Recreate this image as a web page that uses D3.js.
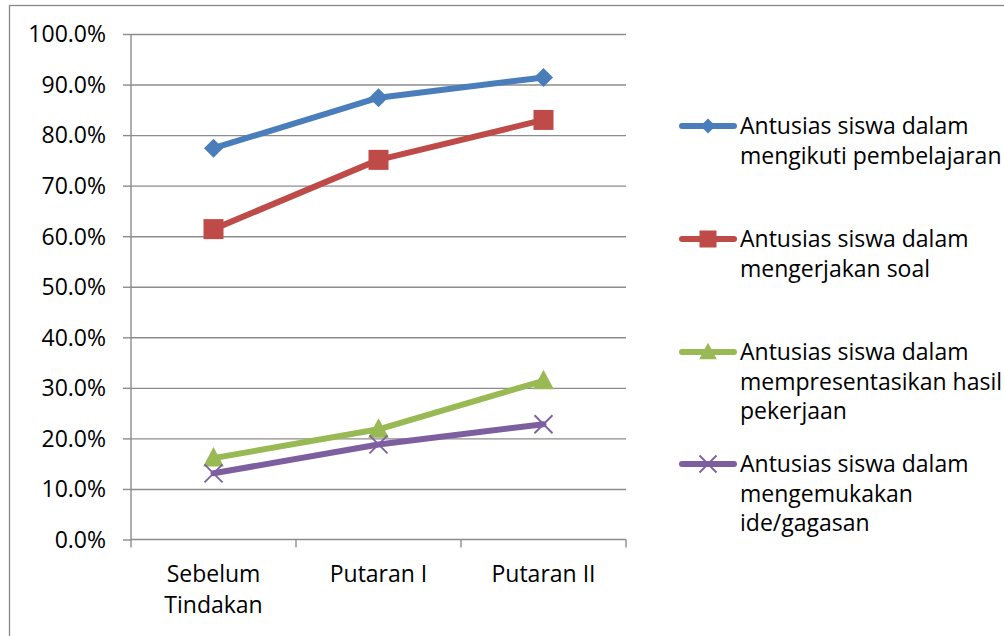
<!DOCTYPE html>
<html>
<head>
<meta charset="utf-8">
<script src="https://cdn.jsdelivr.net/npm/d3@7"></script>
<style>
  html, body { margin: 0; padding: 0; background: #fff; }
  svg { display: block; }
  text { font-family: "Open Sans", Lato, sans-serif; fill: #000; }
</style>
</head>
<body>
<svg id="chart" width="1004" height="636"></svg>
<script>
// Categories (stages of the action research)
const categories = [["Sebelum", "Tindakan"], ["Putaran I"], ["Putaran II"]];
const categoryKeys = ["Sebelum Tindakan", "Putaran I", "Putaran II"];

// Percentages per stage for each indicator
const mengikuti = [0.774, 0.874, 0.914];
const mengerjakan = [0.614, 0.751, 0.830];
const mempresentasikan = [0.161, 0.218, 0.314];
const mengemukakan = [0.131, 0.188, 0.228];

const seriesNames = [
  ["Antusias siswa dalam", "mengikuti pembelajaran"],
  ["Antusias siswa dalam", "mengerjakan soal"],
  ["Antusias siswa dalam", "mempresentasikan hasil", "pekerjaan"],
  ["Antusias siswa dalam", "mengemukakan", "ide/gagasan"]
];
const seriesColors = ["#4A7EBB", "#BE4B48", "#98B954", "#7D5FA0"];
const seriesMarkers = ["diamond", "square", "triangle", "cross"];
const yTicks = [0, 0.1, 0.2, 0.3, 0.4, 0.5, 0.6, 0.7, 0.8, 0.9, 1.0];

const series = [mengikuti, mengerjakan, mempresentasikan, mengemukakan].map((vals, i) => ({
  name: seriesNames[i], color: seriesColors[i], marker: seriesMarkers[i], values: vals
}));

const FONT = 23;
const svg = d3.select("#chart");

// Outer chart border
svg.append("rect")
  .attr("x", 9.5).attr("y", 5.5)
  .attr("width", 1010).attr("height", 650)
  .attr("fill", "none").attr("stroke", "#898989").attr("stroke-width", 1.3);

const plot = { left: 131, right: 626, top: 34, bottom: 539.5 };

const x = d3.scaleBand().domain(categoryKeys).range([plot.left, plot.right]).paddingInner(0).paddingOuter(0);
const xc = k => x(k) + x.bandwidth() / 2;
const y = d3.scaleLinear().domain([0, 1]).range([plot.bottom, plot.top]);

// Horizontal gridlines
svg.append("g")
  .attr("transform", `translate(${plot.left},0)`)
  .call(d3.axisLeft(y).tickValues(yTicks.slice(1)).tickSize(-(plot.right - plot.left)).tickFormat(""))
  .call(g => g.select(".domain").remove())
  .call(g => g.selectAll("line").attr("stroke", "#8c8c8c").attr("stroke-width", 1.4));

// Y axis
const yAxis = svg.append("g")
  .attr("transform", `translate(${plot.left},0)`)
  .call(d3.axisLeft(y).tickValues(yTicks).tickSize(8).tickPadding(17).tickFormat(d3.format(".1%")));
yAxis.select(".domain").attr("stroke", "#8c8c8c").attr("stroke-width", 1.4).attr("d", `M0,${plot.top}V${plot.bottom}`);
yAxis.selectAll(".tick line").attr("stroke", "#8c8c8c").attr("stroke-width", 1.4);
yAxis.selectAll(".tick text").attr("font-size", FONT).attr("font-family", "'Open Sans', sans-serif").attr("fill", "#000").attr("dy", "0.34em");

// X axis with ticks at category boundaries
const xAxis = svg.append("g").attr("transform", `translate(0,${plot.bottom})`);
xAxis.append("line")
  .attr("x1", plot.left).attr("x2", plot.right)
  .attr("stroke", "#8c8c8c").attr("stroke-width", 1.4);
const boundaries = categoryKeys.map(k => x(k)).concat([x(categoryKeys[categoryKeys.length - 1]) + x.bandwidth()]);
xAxis.selectAll("line.tick").data(boundaries).join("line")
  .attr("class", "tick")
  .attr("x1", d => d).attr("x2", d => d).attr("y1", 0).attr("y2", 8)
  .attr("stroke", "#8c8c8c").attr("stroke-width", 1.4);
xAxis.selectAll("text.cat").data(categories).join("text")
  .attr("class", "cat")
  .attr("text-anchor", "middle")
  .attr("font-size", FONT)
  .each(function (lines, i) {
    d3.select(this).selectAll("tspan").data(lines).join("tspan")
      .attr("x", xc(categoryKeys[i]))
      .attr("y", (d, j) => 42 + j * 31.5)
      .text(d => d);
  });

// Marker shapes
function drawMarker(g, type, color, size) {
  const s = size;
  if (type === "diamond") {
    g.append("path").attr("d", `M0,${-s * 0.5}L${s * 0.5},0L0,${s * 0.5}L${-s * 0.5},0Z`).attr("fill", color);
  } else if (type === "square") {
    g.append("rect").attr("x", -s * 0.5).attr("y", -s * 0.5).attr("width", s).attr("height", s).attr("fill", color);
  } else if (type === "triangle") {
    g.append("path").attr("d", `M0,${-s * 0.55}L${s * 0.52},${s * 0.42}L${-s * 0.52},${s * 0.42}Z`).attr("fill", color);
  } else if (type === "cross") {
    const h = s * 0.5;
    g.append("path").attr("d", `M${-h},${-h}L${h},${h}M${-h},${h}L${h},${-h}`)
      .attr("stroke", color).attr("stroke-width", 1.8).attr("fill", "none");
  }
}

const markerSize = { diamond: 19, square: 20, triangle: 20, cross: 18 };

// Series lines and markers
const line = d3.line().x((d, i) => xc(categoryKeys[i])).y(d => y(d));
series.forEach(s => {
  svg.append("path")
    .datum(s.values)
    .attr("d", line)
    .attr("fill", "none")
    .attr("stroke", s.color)
    .attr("stroke-width", 6)
    .attr("stroke-linejoin", "round")
    .attr("stroke-linecap", "round");
  s.values.forEach((v, i) => {
    const g = svg.append("g").attr("transform", `translate(${xc(categoryKeys[i])},${y(v)})`);
    drawMarker(g, s.marker, s.color, markerSize[s.marker]);
  });
});

// Legend
const legendRows = [126, 239, 352, 464];
const legend = svg.append("g");
series.forEach((s, i) => {
  const g = legend.append("g").attr("transform", `translate(0,${legendRows[i]})`);
  g.append("line").attr("x1", 682).attr("x2", 734)
    .attr("stroke", s.color).attr("stroke-width", 6).attr("stroke-linecap", "round");
  const mg = g.append("g").attr("transform", "translate(708,0)");
  drawMarker(mg, s.marker, s.color, s.marker === "diamond" ? 15 : 17);
  g.append("text").attr("font-size", FONT)
    .selectAll("tspan").data(s.name).join("tspan")
    .attr("x", 740)
    .attr("y", (d, j) => 8 + j * 29.5)
    .text(d => d);
});
</script>
</body>
</html>
